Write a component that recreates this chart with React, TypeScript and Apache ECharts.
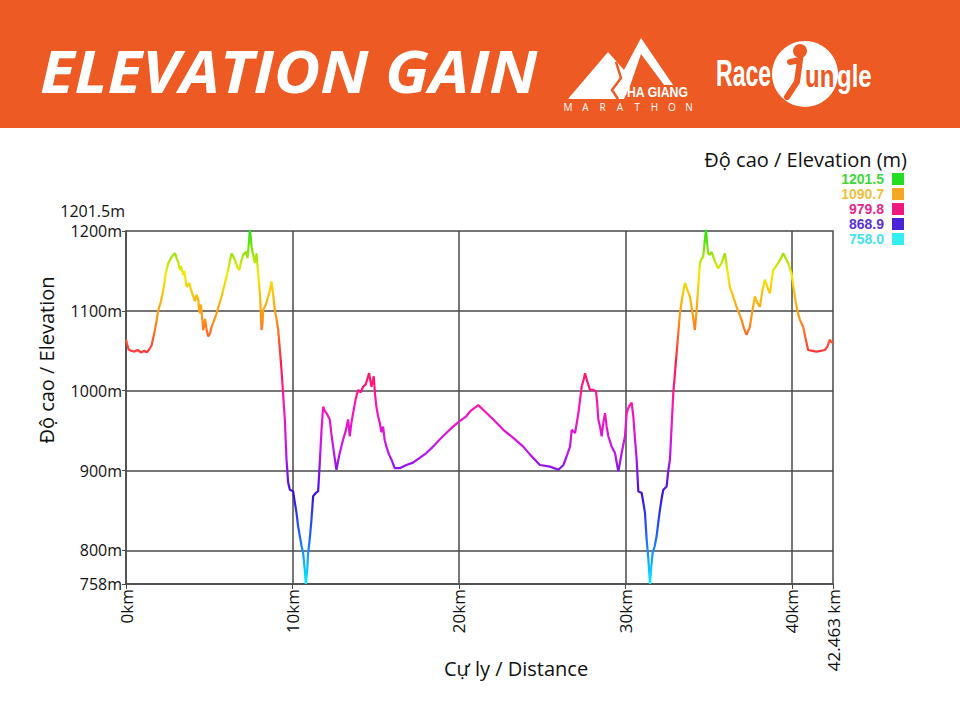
import { useEffect, useRef } from 'react';
import * as echarts from 'echarts';

// Distance along the course (km) and elevation (m), read from the profile
const distanceKm = [
  0.0, 0.05, 0.15, 0.3, 0.5, 0.7, 0.9, 1.1, 1.25, 1.4, 1.54, 1.74, 1.94, 2.1, 2.24, 2.4, 2.54, 2.7, 2.84, 2.95,
  3.04, 3.15, 3.24, 3.3, 3.44, 3.5, 3.64, 3.8, 3.94, 4.05, 4.14, 4.25, 4.34, 4.4, 4.44, 4.5, 4.64, 4.75, 4.85, 4.94,
  5.05, 5.14, 5.44, 5.74, 6.04, 6.2, 6.34, 6.44, 6.54, 6.68, 6.8, 6.92, 7.04, 7.2, 7.3, 7.38, 7.44, 7.5, 7.54, 7.64,
  7.74, 7.84, 7.94, 8.05, 8.14, 8.2, 8.24, 8.4, 8.54, 8.65, 8.74, 8.84, 8.94, 9.04, 9.14, 9.24, 9.34, 9.44, 9.54, 9.64,
  9.74, 9.84, 10.04, 10.14, 10.24, 10.34, 10.44, 10.54, 10.64, 10.74, 10.8, 10.88, 10.94, 11.04, 11.14, 11.24, 11.4, 11.54, 11.64, 11.74,
  11.84, 11.94, 12.04, 12.14, 12.24, 12.34, 12.44, 12.54, 12.64, 12.74, 12.84, 13.04, 13.2, 13.34, 13.44, 13.54, 13.64, 13.8, 13.94, 14.1,
  14.24, 14.4, 14.5, 14.6, 14.74, 14.88, 14.96, 15.04, 15.14, 15.24, 15.34, 15.44, 15.54, 15.64, 15.8, 15.94, 16.14, 16.44, 16.84, 17.24,
  17.64, 18.04, 18.44, 18.84, 19.24, 19.64, 20.04, 20.44, 20.66, 21.04, 21.16, 21.56, 22.06, 22.66, 23.26, 23.86, 24.27, 24.86, 25.47, 25.97,
  26.27, 26.5, 26.67, 26.77, 26.97, 27.17, 27.37, 27.5, 27.57, 27.67, 27.87, 28.07, 28.23, 28.3, 28.37, 28.47, 28.57, 28.67, 28.77, 28.87,
  28.97, 29.17, 29.37, 29.47, 29.57, 29.67, 29.77, 29.97, 30.07, 30.2, 30.37, 30.47, 30.57, 30.67, 30.77, 30.97, 31.07, 31.17, 31.27, 31.37,
  31.47, 31.55, 31.63, 31.75, 31.87, 31.97, 32.07, 32.17, 32.27, 32.47, 32.57, 32.67, 32.77, 32.87, 32.97, 33.07, 33.17, 33.27, 33.42, 33.57,
  33.72, 33.87, 34.02, 34.17, 34.27, 34.37, 34.47, 34.57, 34.67, 34.75, 34.83, 34.9, 34.97, 35.07, 35.17, 35.37, 35.57, 35.77, 35.97, 36.12,
  36.27, 36.47, 36.67, 36.97, 37.12, 37.27, 37.37, 37.47, 37.62, 37.77, 37.92, 38.07, 38.22, 38.37, 38.52, 38.67, 38.87, 39.02, 39.17, 39.32,
  39.47, 39.62, 39.77, 39.97, 40.17, 40.32, 40.47, 40.67, 40.82, 40.97, 41.22, 41.47, 41.72, 41.97, 42.12, 42.27, 42.38, 42.463,
];
const elevationM = [
  1064, 1060, 1052, 1050, 1049, 1051, 1048, 1050, 1048, 1052, 1057, 1076, 1101, 1112, 1126, 1148, 1160, 1166, 1170, 1172,
  1166, 1160, 1151, 1156, 1145, 1150, 1130, 1135, 1124, 1118, 1112, 1120, 1114, 1100, 1097, 1108, 1076, 1090, 1075, 1068,
  1072, 1080, 1097, 1118, 1143, 1158, 1172, 1168, 1164, 1155, 1151, 1162, 1170, 1174, 1166, 1185, 1201.5, 1190, 1180, 1170,
  1160, 1172, 1147, 1120, 1076, 1085, 1101, 1108, 1118, 1126, 1137, 1120, 1101, 1090, 1076, 1052, 1026, 995, 964, 914,
  885, 876, 874, 860, 847, 830, 818, 806, 797, 775, 758, 775, 797, 815, 839, 868, 872, 874, 910, 950,
  980, 975, 972, 968, 964, 945, 930, 915, 901, 912, 922, 939, 950, 964, 943, 960, 972, 990, 1001, 998,
  1005, 1008, 1015, 1022, 1005, 1018, 995, 980, 968, 960, 948, 955, 938, 930, 920, 914, 903, 903, 907, 910,
  916, 922, 930, 939, 947, 955, 962, 968, 974, 980, 982, 974, 964, 951, 941, 930, 920, 907, 905, 901,
  907, 920, 930, 951, 947, 972, 1005, 1015, 1022, 1014, 1001, 1001, 999, 985, 964, 955, 943, 960, 972, 955,
  943, 930, 922, 910, 899, 910, 922, 943, 972, 980, 985, 968, 940, 914, 874, 872, 860, 847, 814, 790,
  758, 780, 797, 805, 818, 835, 851, 865, 876, 880, 900, 914, 955, 997, 1022, 1047, 1072, 1097, 1118, 1135,
  1126, 1118, 1098, 1076, 1101, 1130, 1160, 1165, 1168, 1185, 1201.5, 1185, 1172, 1170, 1174, 1162, 1153, 1160, 1172, 1150,
  1130, 1118, 1105, 1089, 1078, 1070, 1075, 1080, 1100, 1118, 1110, 1105, 1125, 1139, 1130, 1122, 1151, 1155, 1160, 1165,
  1172, 1166, 1160, 1147, 1118, 1100, 1089, 1080, 1065, 1051, 1050, 1049, 1050, 1051, 1055, 1064, 1060, 1062,
];

const totalKm = 42.463;
const minElev = 758;
const maxElev = 1201.5;
const yTickValues = [758, 800, 900, 1000, 1100, 1200];
const xGridKm = [10, 20, 30, 40];
const yGridM = [800, 900, 1000, 1100];
const legendValues = ['1201.5', '1090.7', '979.8', '868.9', '758.0'];
const legendTextColors = ['#3fd83a', '#f0c040', '#e4288c', '#5a34d0', '#44e2ea'];
const legendBoxColors = ['#22dd22', '#f5a623', '#ee1a80', '#4a22d8', '#33eef0'];
const rampColors = ['#00f2ff', '#1a6cff', '#3a12e0', '#c214f0', '#ff14b4', '#ff1a48', '#ff9414', '#f6ea00', '#22e012'];
const marathonLetters = ['M', 'A', 'R', 'A', 'T', 'H', 'O', 'N'];

export default function App() {
  const ref = useRef<HTMLDivElement>(null);

  useEffect(() => {
    if (!ref.current) return;
    const chart = echarts.init(ref.current, null, { renderer: 'svg' });
    const axisColor = '#4a4a4a';
    const font = "'Open Sans', sans-serif";
    const narrow = "'Liberation Sans Narrow', 'Liberation Sans', sans-serif";

    const graphic: any[] = [
      { type: 'rect', shape: { x: 0, y: 0, width: 960, height: 128 }, style: { fill: '#ee5a24' }, z: 0 },
      {
        type: 'text', x: 40, y: 70, scaleX: 1.08,
        style: { text: 'ELEVATION GAIN', fill: '#ffffff', font: "italic bold 59px 'Open Sans', sans-serif", textVerticalAlign: 'middle' },
      },
      // Ha Giang Marathon logo
      {
        type: 'polygon',
        shape: { points: [[568, 99], [608, 52], [624, 70], [641, 38], [673, 85], [664, 85], [641, 54], [630, 86], [624, 99]] },
        style: { fill: '#ffffff' },
      },
      {
        type: 'polyline',
        shape: { points: [[616, 62], [621, 78], [612, 90], [618, 99]] },
        style: { stroke: '#ee5a24', lineWidth: 2.5, fill: 'none' },
      },
      {
        type: 'text', x: 627, y: 92, scaleX: 0.82,
        style: { text: 'HA GIANG', fill: '#ffffff', font: `bold 15px ${narrow}`, textVerticalAlign: 'middle' },
      },
      ...marathonLetters.map((ch, i) => ({
        type: 'text', x: 568 + i * 17.3, y: 107,
        style: { text: ch, fill: '#ffffff', font: "10px 'Open Sans', sans-serif", textAlign: 'center', textVerticalAlign: 'middle' },
      })),
      // RaceJungle logo
      { type: 'circle', shape: { cx: 805, cy: 74, r: 33 }, style: { fill: '#ffffff' } },
      {
        type: 'text', x: 716, y: 73, scaleX: 0.64,
        style: { text: 'Race', fill: '#ffffff', font: `bold 36px ${narrow}`, textVerticalAlign: 'middle' },
      },
      { type: 'circle', shape: { cx: 800, cy: 51, r: 7 }, style: { fill: '#ee5a24' } },
      {
        type: 'polyline',
        shape: { points: [[790, 62], [800, 60], [797, 82], [787, 97]] },
        style: { stroke: '#ee5a24', lineWidth: 6, fill: 'none', lineCap: 'round' },
      },
      {
        type: 'text', x: 805, y: 76, scaleX: 0.75,
        style: { text: 'un', fill: '#ee5a24', font: `bold 32px ${narrow}`, textVerticalAlign: 'middle' },
      },
      {
        type: 'text', x: 837, y: 76, scaleX: 0.75,
        style: { text: 'gle', fill: '#ffffff', font: `bold 32px ${narrow}`, textVerticalAlign: 'middle' },
      },
      // Legend
      {
        type: 'text', x: 907, y: 159,
        style: { text: 'Độ cao / Elevation (m)', fill: '#111', font: `20px ${font}`, textAlign: 'right', textVerticalAlign: 'middle' },
      },
      ...legendValues.flatMap((v, i) => [
        {
          type: 'text', x: 884, y: 179 + i * 15,
          style: { text: v, fill: legendTextColors[i], font: "bold 14px 'Liberation Sans', Arial, sans-serif", textAlign: 'right', textVerticalAlign: 'middle' },
        },
        { type: 'rect', shape: { x: 892, y: 173 + i * 15, width: 12, height: 12 }, style: { fill: legendBoxColors[i] } },
      ]),
      // Axis titles and extra label
      {
        type: 'text', x: 125, y: 211,
        style: { text: maxElev + 'm', fill: '#111', font: `16px ${font}`, textAlign: 'right', textVerticalAlign: 'middle' },
      },
      {
        type: 'text', x: 46, y: 360, rotation: Math.PI / 2,
        style: { text: 'Độ cao / Elevation', fill: '#111', font: `20px ${font}`, textAlign: 'center', textVerticalAlign: 'middle' },
      },
      {
        type: 'text', x: 516, y: 668,
        style: { text: 'Cự ly / Distance', fill: '#111', font: `20px ${font}`, textAlign: 'center', textVerticalAlign: 'middle' },
      },
    ];

    chart.setOption({
      animation: false,
      backgroundColor: '#ffffff',
      grid: { left: 126, right: 127, top: 231, bottom: 136, show: true, borderColor: axisColor, borderWidth: 1.5 },
      xAxis: {
        type: 'value', min: 0, max: totalKm, interval: 10,
        axisLine: { show: true, lineStyle: { color: axisColor, width: 1.5 } },
        axisTick: { show: true, length: 5, lineStyle: { color: axisColor } },
        splitLine: { show: false },
        axisLabel: {
          rotate: 90, margin: 5, fontSize: 17, fontFamily: font, color: '#111', showMaxLabel: true,
          formatter: (v: number) => (Math.abs(v - totalKm) < 1e-6 ? totalKm + ' km' : v + 'km'),
        },
      },
      yAxis: {
        type: 'value', min: minElev, max: 1200,
        axisLine: { show: true, lineStyle: { color: axisColor, width: 1.5 } },
        axisTick: { show: true, length: 4, customValues: yTickValues, lineStyle: { color: axisColor } },
        splitLine: { show: false },
        axisLabel: {
          customValues: yTickValues, margin: 4, fontSize: 16, fontFamily: font, color: '#111',
          formatter: (v: number) => v + 'm',
        },
      },
      visualMap: {
        type: 'continuous', show: false, seriesIndex: 0, dimension: 1,
        min: minElev, max: maxElev, inRange: { color: rampColors },
      },
      series: [
        {
          type: 'line', z: 5, showSymbol: false, clip: false,
          lineStyle: { width: 2.2 },
          data: distanceKm.map((d, i) => [d, elevationM[i]]),
        },
        {
          type: 'line', z: 1, data: [], silent: true,
          markLine: {
            silent: true, symbol: 'none', label: { show: false },
            lineStyle: { color: axisColor, width: 1.5, type: 'solid' },
            data: [...xGridKm.map((x) => ({ xAxis: x })), ...yGridM.map((y) => ({ yAxis: y }))],
          },
        },
      ],
      graphic,
    });

    return () => chart.dispose();
  }, []);

  return <div ref={ref} style={{ position: 'fixed', left: 0, top: 0, width: 960, height: 720 }} />;
}
